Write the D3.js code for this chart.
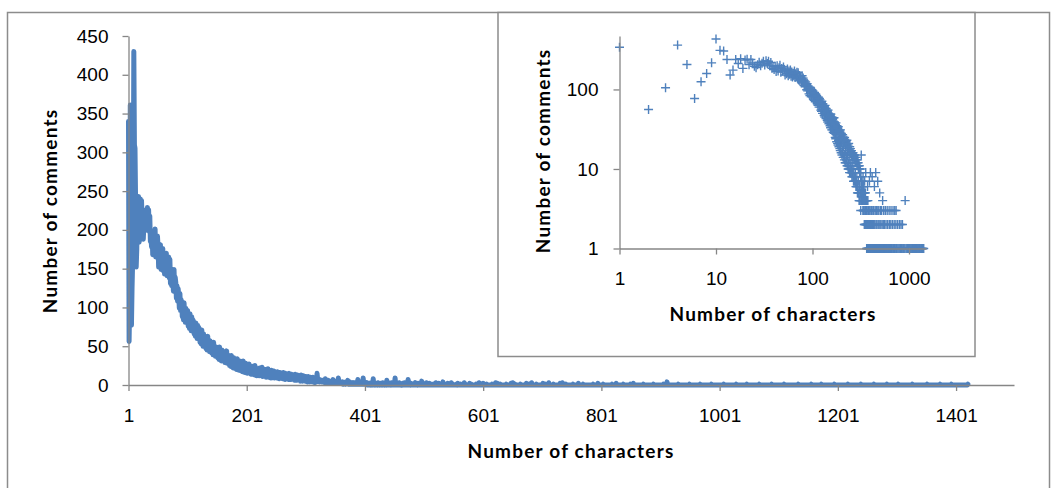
<!DOCTYPE html>
<html>
<head>
<meta charset="utf-8">
<script src="https://cdn.jsdelivr.net/npm/d3@7"></script>
<style>
  body { margin: 0; background: #fff; }
  svg { display: block; font-family: Lato, "Liberation Sans", sans-serif; }
</style>
</head>
<body>
<script>
const denseCounts = [
  340, 56, 105, 361, 206, 77, 125, 159, 216, 430,
  310, 305, 238, 152, 175, 238, 212, 243, 184, 234,
  240, 205, 238, 215, 196, 188, 205, 220, 199, 214,
  226, 203, 229, 212, 226, 198, 218, 185, 192, 178,
  196, 168, 199, 171, 188, 201, 165, 183, 170, 192,
  178, 152, 174, 158, 181, 149, 170, 155, 176, 147,
  166, 143, 160, 149, 170, 141, 158, 146, 165, 138,
  162, 131, 150, 128, 147, 135, 121, 149, 126, 139,
  132, 112, 128, 108, 124, 115, 99, 118, 96, 110,
  104, 88, 101, 84, 106, 90, 81, 99, 83, 94,
  96, 76, 90, 73, 92, 79, 70, 88, 72, 84,
  82, 66, 79, 63, 80, 68, 60, 77, 64, 74,
  70, 55, 68, 53, 71, 56, 50, 66, 54, 63,
  62, 47, 60, 45, 63, 49, 58, 43, 57, 48,
  54, 41, 52, 39, 55, 42, 50, 37, 49, 43,
  47, 35, 46, 33, 49, 36, 44, 31, 45, 38,
  42, 31, 43, 29, 40, 33, 44, 28, 39, 32,
  37, 25, 36, 24, 38, 27, 34, 22, 35, 28,
  33, 21, 32, 20, 34, 23, 30, 19, 31, 24,
  30, 18, 29, 17, 31, 20, 27, 16, 28, 22,
  26, 15, 25, 16, 27, 17, 24, 14, 23, 19,
  24, 14, 23, 13, 25, 15, 22, 12, 21, 17,
  21, 12, 22, 13, 20, 14, 23, 11, 19, 15,
  19, 11, 20, 10, 18, 12, 21, 10, 17, 13,
  18, 9, 19, 10, 17, 11, 18, 9, 16, 12,
  16, 9, 17, 10, 15, 8, 16, 11, 14, 9,
  15, 8, 16, 9, 14, 7, 15, 10, 13, 8,
  14, 7, 15, 8, 13, 7, 14, 9, 12, 7,
  13, 6, 14, 7, 12, 6, 13, 8, 11, 6,
  12, 5, 13, 6, 11, 5, 12, 7, 10, 5,
  11, 5, 10, 4, 11, 6, 9, 4, 10, 5,
  9, 4, 10, 5, 8, 3, 9, 6, 4, 15,
  7, 5, 6, 4, 7, 5, 6, 4, 5, 6,
  4, 5, 3, 8, 4, 5, 3, 4, 6, 3,
  5, 3, 4, 2, 5, 4, 7, 5, 2, 4,
  3, 4, 2, 5, 3, 9, 4, 3, 2, 4,
  3, 2, 4, 1, 3, 2, 3, 1, 4, 2,
  2, 6, 1, 2, 4, 2, 1, 3, 2, 1,
  3, 2, 1, 2, 3, 1, 2, 1, 7, 2,
  1, 2, 3, 1, 2, 1, 2, 9, 1, 2
];

// Lengths above 400 that got exactly 1, 2 or 3 comments (all others got none).
const tailOnes = [
  401, 403, 406, 409, 412, 414, 417, 421, 425, 429, 433, 436, 440, 444, 448,
  451, 455, 461, 463, 470, 473, 477, 482, 485, 489, 494, 499, 502, 507, 513,
  517, 523, 529, 536, 543, 550, 556, 563, 571, 581, 589, 598, 607, 616, 630,
  640, 655, 664, 679, 691, 706, 720, 741, 753, 770, 787, 804, 819, 838, 850,
  872, 889, 906, 931, 950, 968, 987, 1008, 1029, 1047, 1068, 1089, 1110, 1134,
  1156, 1173, 1195, 1218, 1240, 1262, 1284, 1303, 1327, 1352, 1374, 1393, 1421
];
const tailTwos = [
  402, 407, 419, 427, 435, 443, 456, 465, 479, 491, 510, 526, 541, 558, 578,
  601, 625, 648, 674, 702, 731, 762, 795, 826, 855
];
const tailThrees = [
  404, 411, 423, 431, 446, 459, 468, 486, 505, 521, 547, 569, 594, 622, 651,
  683, 712, 735
];
// Larger isolated counts above 400: [length, comments].
const tailSpikes = [[415, 8], [438, 6], [452, 9], [474, 7], [497, 5], [533, 4], [912, 4]];

// Longest comment length.
const lastLength = 1421;

// Tick values.
const mainXTicks = [1, 201, 401, 601, 801, 1001, 1201, 1401];
const mainYTicks = [0, 50, 100, 150, 200, 250, 300, 350, 400, 450];
const insetXTicks = [1, 10, 100, 1000];
const insetYTicks = [1, 10, 100];

// Build the full series: one entry per length.
const tailMap = new Map();
tailOnes.forEach(l => tailMap.set(l, 1));
tailTwos.forEach(l => tailMap.set(l, 2));
tailThrees.forEach(l => tailMap.set(l, 3));
tailSpikes.forEach(([l, c]) => tailMap.set(l, c));

const series = d3.range(1, lastLength + 1).map(len => ({
  len: len,
  count: len <= denseCounts.length ? denseCounts[len - 1] : (tailMap.get(len) || 0)
}));

const Blue = "#4f81bd";
const AxisGrey = "#868686";
const FontSize = 19;

const svg = d3.select("body").append("svg")
    .attr("width", 1056)
    .attr("height", 488);

// Outer chart border.
svg.append("rect")
    .attr("x", 7.5).attr("y", 12.5)
    .attr("width", 1042).attr("height", 500)
    .attr("fill", "#fff")
    .attr("stroke", "#8c8c8c")
    .attr("stroke-width", 1.5);

// Main chart scales.
const xMain = d3.scaleLinear().domain([1, 1499]).range([128.5, 1014]);
const yMain = d3.scaleLinear().domain([0, 450]).range([385, 36]);

const styleAxis = function (g) {
    g.select(".domain").attr("stroke", AxisGrey).attr("stroke-width", 1.3);
    g.selectAll(".tick line").attr("stroke", AxisGrey).attr("stroke-width", 1.3);
    g.selectAll(".tick text")
        .attr("fill", "#000")
        .attr("font-size", FontSize);
};

// Main line.
svg.append("path")
    .datum(series)
    .attr("fill", "none")
    .attr("stroke", Blue)
    .attr("stroke-width", 5)
    .attr("stroke-linejoin", "round")
    .attr("stroke-linecap", "round")
    .attr("d", d3.line().x(d => xMain(d.len)).y(d => yMain(d.count)));

svg.append("g")
    .attr("transform", "translate(0,385)")
    .call(d3.axisBottom(xMain).tickValues(mainXTicks).tickFormat(d3.format("d"))
        .tickSize(6).tickSizeOuter(0).tickPadding(18))
    .call(styleAxis);

svg.append("g")
    .attr("transform", "translate(128.5,0)")
    .call(d3.axisLeft(yMain).tickValues(mainYTicks).tickFormat(d3.format("d"))
        .tickSize(6).tickSizeOuter(0).tickPadding(14))
    .call(styleAxis);

const addTitle = function (text, x, y, rotate) {
    svg.append("text")
        .attr("transform", `translate(${x},${y})` + (rotate ? " rotate(-90)" : ""))
        .attr("text-anchor", "middle")
        .attr("font-size", FontSize)
        .attr("font-weight", "bold")
        .attr("letter-spacing", 1.2)
        .attr("fill", "#000")
        .text(text);
};

addTitle("Number of characters", 571, 458, false);
addTitle("Number of comments", 57, 211, true);

// Inset box.
svg.append("rect")
    .attr("x", 498).attr("y", 12.5)
    .attr("width", 477).attr("height", 344)
    .attr("fill", "#fff")
    .attr("stroke", "#8c8c8c")
    .attr("stroke-width", 1.5);

// Inset log-log scales.
const xInset = d3.scaleLog().domain([1, 1500]).range([619.5, 926]);
const yInset = d3.scaleLog().domain([1, 470]).range([248.5, 36]);

svg.append("g")
    .selectAll("path")
    .data(series.filter(d => d.count > 0))
    .join("path")
    .attr("transform", d => `translate(${xInset(d.len)},${yInset(d.count)})`)
    .attr("d", "M-4.5,0H4.5M0,-4.5V4.5")
    .attr("stroke", Blue)
    .attr("stroke-width", 1.4)
    .attr("fill", "none");

svg.append("g")
    .attr("transform", "translate(0,248.5)")
    .call(d3.axisBottom(xInset).tickValues(insetXTicks).tickFormat(d3.format("d"))
        .tickSize(6).tickSizeOuter(0).tickPadding(17))
    .call(styleAxis);

svg.append("g")
    .attr("transform", "translate(619.5,0)")
    .call(d3.axisLeft(yInset).tickValues(insetYTicks).tickFormat(d3.format("d"))
        .tickSize(6).tickSizeOuter(0).tickPadding(15))
    .call(styleAxis);

addTitle("Number of characters", 773, 321, false);
addTitle("Number of comments", 550, 151, true);
</script>
</body>
</html>
